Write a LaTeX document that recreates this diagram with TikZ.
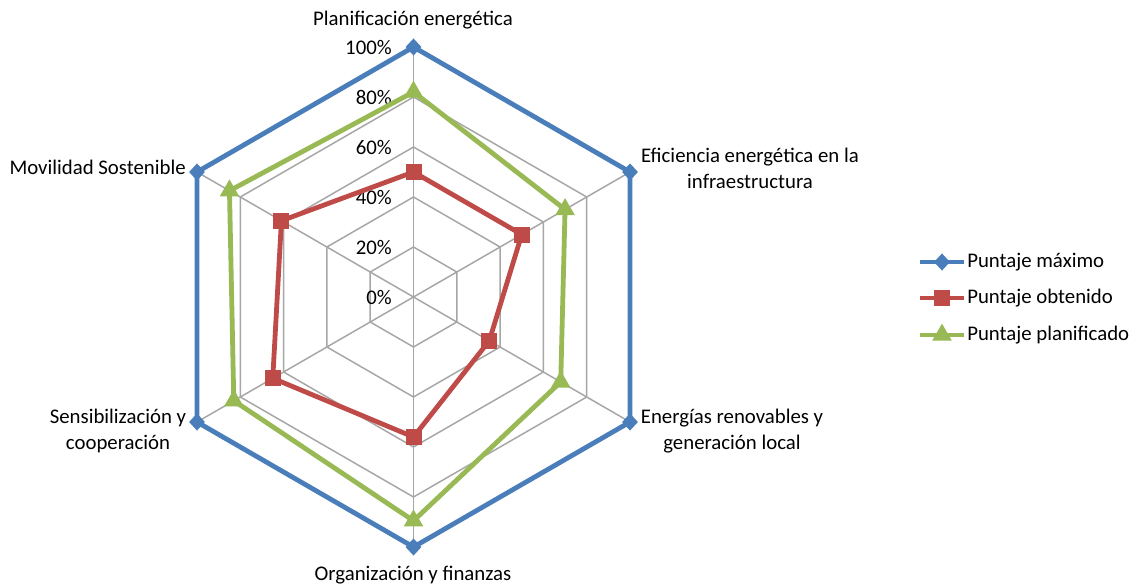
\documentclass[tikz,border=0pt]{standalone}
\usepackage{fontspec}
\setmainfont{Carlito}
\usetikzlibrary{shapes.geometric,calc}
\definecolor{cblue}{HTML}{4A7EBB}
\definecolor{cred}{HTML}{BE4B48}
\definecolor{cgreen}{HTML}{98B954}
\definecolor{cgrid}{HTML}{A6A6A6}
\tikzset{
  gridline/.style={draw=cgrid, line width=1.1},
  serie/.style={line width=3.6, line join=round},
  mkdiamond/.style={diamond, fill=cblue, inner sep=0pt, minimum width=12, minimum height=13},
  mksquare/.style={rectangle, fill=cred, inner sep=0pt, minimum size=12},
  mktri/.style={regular polygon, regular polygon sides=3, fill=cgreen, inner sep=0pt, minimum size=17},
  lbl/.style={inner sep=0pt, align=center},
  pct/.style={inner sep=0pt, anchor=east},
}
\begin{document}
\begin{tikzpicture}[x=0.75pt,y=-0.75pt,font=\fontsize{15.6}{19.5}\selectfont]
\useasboundingbox (0,0) rectangle (1138,586);
\fill[white] (0,0) rectangle (1138,586);
\coordinate (O) at (413.5,297);
% grid rings
\foreach \r in {50,100,150,200,250}{
  \draw[gridline] ($(O)+(-90:\r)$) -- ($(O)+(-30:\r)$) -- ($(O)+(30:\r)$) -- ($(O)+(90:\r)$) -- ($(O)+(150:\r)$) -- ($(O)+(210:\r)$) -- cycle;
}
% spokes
\foreach \k in {0,...,5}{
  \coordinate (S\k) at ($(O)+(-90+60*\k:250)$);
  \draw[gridline] (O) -- (S\k);
}
% percent labels
\foreach \p [count=\i from 0] in {0\%,20\%,40\%,60\%,80\%,100\%}{
  \node[pct] (p\i) at (392,{297-50*\i}) {\p};
}
% series coordinates
\foreach \v [count=\k from 0] in {1,1,1,1,1,1}{
  \coordinate (b\k) at ($(O)+(-90+60*\k:250*\v)$);
}
\foreach \v [count=\k from 0] in {0.50,0.50,0.35,0.56,0.65,0.61}{
  \coordinate (r\k) at ($(O)+(-90+60*\k:250*\v)$);
}
\foreach \v [count=\k from 0] in {0.82,0.70,0.68,0.895,0.83,0.85}{
  \coordinate (g\k) at ($(O)+(-90+60*\k:250*\v)$);
}
\draw[serie, cblue] (b0) -- (b1) -- (b2) -- (b3) -- (b4) -- (b5) -- cycle;
\draw[serie, cred] (r0) -- (r1) -- (r2) -- (r3) -- (r4) -- (r5) -- cycle;
\draw[serie, cgreen] (g0) -- (g1) -- (g2) -- (g3) -- (g4) -- (g5) -- cycle;
\foreach \k in {0,...,5}{
  \node[mkdiamond] (mb\k) at (b\k) {};
  \node[mksquare] (mr\k) at (r\k) {};
  \node[mktri] (mg\k) at (g\k) {};
}
% axis labels
\node[lbl] (l0) at (413,20) {Planificación energética};
\node[lbl] (l1) at (750,168) {Eficiencia energética en la\\infraestructura};
\node[lbl] (l2) at (732,431) {Energías renovables y\\generación local};
\node[lbl] (l3) at (413,575) {Organización y finanzas};
\node[lbl] (l4) at (118,431) {Sensibilización y\\cooperación};
\node[lbl, anchor=east] (l5) at (186,167) {Movilidad Sostenible};
% legend
\coordinate (la1) at (920,262); \coordinate (lb1) at (964,262);
\coordinate (la2) at (920,298); \coordinate (lb2) at (964,298);
\coordinate (la3) at (920,335); \coordinate (lb3) at (964,335);
\draw[serie, cblue] (la1) -- (lb1);
\draw[serie, cred] (la2) -- (lb2);
\draw[serie, cgreen] (la3) -- (lb3);
\node[mkdiamond] (lm1) at ($(la1)!0.5!(lb1)$) {};
\node[mksquare] (lm2) at ($(la2)!0.5!(lb2)$) {};
\node[mktri] (lm3) at ($(la3)!0.5!(lb3)$) {};
\node[lbl, anchor=west] (lt1) at (967,262) {Puntaje máximo};
\node[lbl, anchor=west] (lt2) at (967,298) {Puntaje obtenido};
\node[lbl, anchor=west] (lt3) at (967,335) {Puntaje planificado};
\end{tikzpicture}
\end{document}
